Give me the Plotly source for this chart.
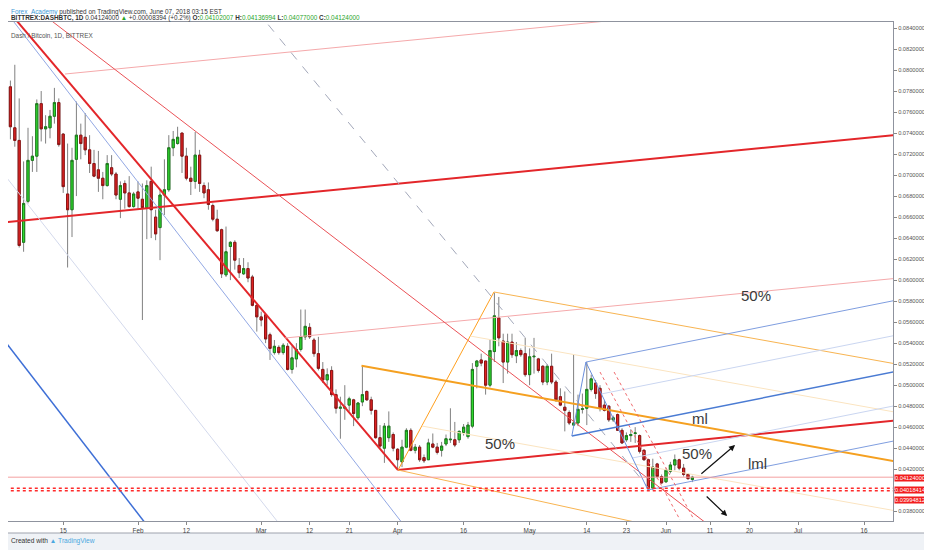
import pandas as pd
import plotly.graph_objects as go

BASE = pd.Timestamp("2018-01-01")

# DASH/BTC daily candles, 2 Jan .. 7 Jun 2018
opens = [
    0.0765, 0.0784, 0.0745, 0.0733, 0.0636, 0.0675, 0.0714, 0.0718, 0.0768, 0.0744,
    0.0745, 0.0756, 0.0769, 0.0739, 0.0682, 0.0667, 0.0715, 0.0738, 0.0736, 0.0724,
    0.0711, 0.0705, 0.0697, 0.0690, 0.0707, 0.0701, 0.0677, 0.0692, 0.0683, 0.0670,
    0.0684, 0.0677, 0.0669, 0.0694, 0.0660, 0.0650, 0.0681, 0.0686, 0.0726, 0.0730,
    0.0740, 0.0718, 0.0697, 0.0694, 0.0719, 0.0690, 0.0686, 0.0671, 0.0658, 0.0648,
    0.0605, 0.0632, 0.0636, 0.0614, 0.0606, 0.0611, 0.0603, 0.0576, 0.0565, 0.0567,
    0.0548, 0.0531, 0.0536, 0.0531, 0.0537, 0.0515, 0.0525, 0.0534, 0.0546, 0.0555,
    0.0543, 0.0530, 0.0515, 0.0505, 0.0514, 0.0491, 0.0478, 0.0478, 0.0481, 0.0486,
    0.0469, 0.0484, 0.0494, 0.0486, 0.0476, 0.0450, 0.0440, 0.0450, 0.0453, 0.0439,
    0.0427, 0.0441, 0.0457, 0.0438, 0.0441, 0.0431, 0.0429, 0.0444, 0.0441, 0.0438,
    0.0444, 0.0448, 0.0448, 0.0448, 0.0455, 0.0451, 0.0461, 0.0518, 0.0524, 0.0523,
    0.0500, 0.0532, 0.0564, 0.0542, 0.0522, 0.0541, 0.0528, 0.0533, 0.0530, 0.0510,
    0.0527, 0.0525, 0.0518, 0.0503, 0.0518, 0.0503, 0.0489, 0.0479, 0.0474, 0.0462,
    0.0464, 0.0477, 0.0478, 0.0496, 0.0502, 0.0497, 0.0481, 0.0480, 0.0467, 0.0472,
    0.0457, 0.0448, 0.0452, 0.0454, 0.0452, 0.0438, 0.0429, 0.0402, 0.0425, 0.0413,
    0.0408, 0.0418, 0.0424, 0.0429, 0.0421, 0.0415, 0.04102007,
]
highs = [
    0.0819, 0.0790, 0.0805, 0.0773, 0.0713, 0.0745, 0.0737, 0.0772, 0.0780, 0.0757,
    0.0762, 0.0783, 0.0773, 0.0740, 0.0730, 0.0726, 0.0770, 0.0749, 0.0759, 0.0738,
    0.0724, 0.0723, 0.0703, 0.0719, 0.0719, 0.0703, 0.0694, 0.0695, 0.0699, 0.0684,
    0.0694, 0.0692, 0.0695, 0.0708, 0.0667, 0.0686, 0.0715, 0.0738, 0.0742, 0.0746,
    0.0740, 0.0726, 0.0708, 0.0741, 0.0724, 0.0693, 0.0693, 0.0673, 0.0667, 0.0649,
    0.0651, 0.0637, 0.0638, 0.0621, 0.0621, 0.0617, 0.0605, 0.0577, 0.0570, 0.0568,
    0.0550, 0.0543, 0.0538, 0.0540, 0.0540, 0.0537, 0.0540, 0.0572, 0.0572, 0.0559,
    0.0545, 0.0546, 0.0522, 0.0516, 0.0518, 0.0496, 0.0489, 0.0500, 0.0489, 0.0487,
    0.0484, 0.0519, 0.0495, 0.0489, 0.0476, 0.0462, 0.0464, 0.0475, 0.0455, 0.0440,
    0.0448, 0.0459, 0.0459, 0.0444, 0.0443, 0.0434, 0.0449, 0.0454, 0.0445, 0.0446,
    0.0453, 0.0478, 0.0465, 0.0457, 0.0463, 0.0465, 0.0521, 0.0524, 0.0530, 0.0523,
    0.0543, 0.0588, 0.0584, 0.0549, 0.0549, 0.0549, 0.0541, 0.0535, 0.0545, 0.0535,
    0.0545, 0.0526, 0.0519, 0.0520, 0.0530, 0.0505, 0.0497, 0.0494, 0.0476, 0.0529,
    0.0491, 0.0492, 0.0522, 0.0510, 0.0505, 0.0500, 0.0486, 0.0481, 0.0471, 0.0473,
    0.0459, 0.0455, 0.0458, 0.0460, 0.0453, 0.0439, 0.0430, 0.0430, 0.0426, 0.0415,
    0.0421, 0.0427, 0.0434, 0.0430, 0.0425, 0.0416, 0.04136994,
]
lows = [
    0.0727, 0.0734, 0.0727, 0.0631, 0.0627, 0.0673, 0.0703, 0.0703, 0.0732, 0.0730,
    0.0735, 0.0749, 0.0727, 0.0683, 0.0612, 0.0641, 0.0680, 0.0715, 0.0719, 0.0702,
    0.0698, 0.0684, 0.0677, 0.0689, 0.0699, 0.0677, 0.0659, 0.0668, 0.0669, 0.0669,
    0.0668, 0.0562, 0.0639, 0.0640, 0.0638, 0.0619, 0.0662, 0.0684, 0.0718, 0.0729,
    0.0702, 0.0695, 0.0681, 0.0687, 0.0684, 0.0678, 0.0667, 0.0656, 0.0646, 0.0602,
    0.0603, 0.0600, 0.0610, 0.0602, 0.0605, 0.0598, 0.0575, 0.0551, 0.0556, 0.0540,
    0.0524, 0.0529, 0.0529, 0.0529, 0.0514, 0.0511, 0.0517, 0.0532, 0.0543, 0.0544,
    0.0527, 0.0514, 0.0502, 0.0500, 0.0489, 0.0473, 0.0449, 0.0467, 0.0475, 0.0461,
    0.0467, 0.0480, 0.0485, 0.0472, 0.0449, 0.0440, 0.0426, 0.0446, 0.0437, 0.0420,
    0.0422, 0.0440, 0.0437, 0.0435, 0.0427, 0.0426, 0.0429, 0.0440, 0.0434, 0.0432,
    0.0442, 0.0445, 0.0441, 0.0445, 0.0452, 0.0449, 0.0459, 0.0497, 0.0518, 0.0491,
    0.0498, 0.0522, 0.0537, 0.0502, 0.0511, 0.0526, 0.0521, 0.0527, 0.0508, 0.0500,
    0.0511, 0.0512, 0.0500, 0.0500, 0.0501, 0.0484, 0.0480, 0.0456, 0.0462, 0.0461,
    0.0461, 0.0473, 0.0462, 0.0494, 0.0487, 0.0475, 0.0475, 0.0465, 0.0465, 0.0457,
    0.0444, 0.0446, 0.0446, 0.0445, 0.0435, 0.0428, 0.03995, 0.0400, 0.0411, 0.0406,
    0.0407, 0.0416, 0.0419, 0.0419, 0.0413, 0.0410, 0.04077,
]
closes = [
    0.0790, 0.0746, 0.0733, 0.0633, 0.0673, 0.0714, 0.0718, 0.0768, 0.0744, 0.0746,
    0.0756, 0.0769, 0.0729, 0.0689, 0.0667, 0.0714, 0.0738, 0.0730, 0.0724, 0.0711,
    0.0699, 0.0697, 0.0690, 0.0711, 0.0701, 0.0681, 0.0690, 0.0683, 0.0670, 0.0682,
    0.0678, 0.0669, 0.0690, 0.0667, 0.0644, 0.0681, 0.0686, 0.0726, 0.0734, 0.0736,
    0.0718, 0.0697, 0.0694, 0.0719, 0.0692, 0.0683, 0.0672, 0.0658, 0.0647, 0.0606,
    0.0627, 0.0636, 0.0619, 0.0607, 0.0611, 0.0602, 0.0576, 0.0565, 0.0562, 0.0544,
    0.0535, 0.0537, 0.0531, 0.0538, 0.0515, 0.0526, 0.0534, 0.0546, 0.0556, 0.0546,
    0.0530, 0.0516, 0.0505, 0.0510, 0.0491, 0.0478, 0.0479, 0.0479, 0.0487, 0.0473,
    0.0483, 0.0491, 0.0486, 0.0476, 0.0450, 0.0442, 0.0461, 0.0461, 0.0440, 0.0429,
    0.0441, 0.0457, 0.0438, 0.0441, 0.0429, 0.0428, 0.0445, 0.0441, 0.0436, 0.0442,
    0.0449, 0.04485, 0.0443, 0.0456, 0.0460, 0.0462, 0.0515, 0.0523, 0.0521, 0.0500,
    0.0533, 0.0566, 0.0545, 0.0522, 0.0541, 0.0529, 0.0533, 0.0529, 0.0510, 0.0527,
    0.05275, 0.0514, 0.0503, 0.0518, 0.0503, 0.0486, 0.0481, 0.0476, 0.0464, 0.0464,
    0.0477, 0.04775, 0.0496, 0.0506, 0.0492, 0.0478, 0.0476, 0.0467, 0.0469, 0.0457,
    0.0445, 0.0452, 0.0453, 0.04545, 0.0437, 0.0429, 0.0402, 0.0422, 0.0413, 0.0407,
    0.0419, 0.0424, 0.0429, 0.0421, 0.0415, 0.0411, 0.04124,
]
dates = pd.date_range("2018-01-02", periods=len(opens), freq="D")

# drawn objects: (day offset from 1 Jan, price) start and end points
lines = {
    "red_up_top":     ((-2.0, 0.06540), (205.0, 0.07390)),
    "red_down":       ((2.0, 0.08540), (90.1, 0.04192)),
    "red_up_low":     ((90.1, 0.04192), (205.0, 0.04672)),
    "pink_mid":       ((64.4, 0.05449), (205.0, 0.06024)),
    "pink_top":       ((14.4, 0.07962), (140.0, 0.08477)),
    "red_thin_down":  ((10.0, 0.08512), (165.0, 0.03530)),
    "blue_chan":      ((1.0, 0.08555), (92.0, 0.03636)),
    "blue_low_left":  ((-2.0, 0.05567), (34.0, 0.03613)),
    "faint_chan":     ((-2.0, 0.07143), (64.0, 0.03632)),
    "grey_dash":      ((58.0, 0.08564), (147.4, 0.04002)),
    "orange_handle":  ((90.1, 0.04192), (111.9, 0.05887)),
    "orange_median":  ((81.8, 0.05185), (205.0, 0.04261)),
    "orange_upper":   ((111.9, 0.05887), (205.0, 0.05189)),
    "orange_lower":   ((90.1, 0.04192), (145.0, 0.03687)),
    "orange_half_up": ((106.5, 0.05468), (205.0, 0.04729)),
    "orange_half_lo": ((95.5, 0.04611), (205.0, 0.03790)),
    "blue_median":    ((129.6, 0.04516), (205.0, 0.05146)),
    "blue_upper":     ((132.8, 0.05220), (205.0, 0.05823)),
    "blue_lower":     ((146.9, 0.04002), (205.0, 0.04487)),
    "blue_half_up":   ((136.3, 0.04916), (205.0, 0.05490)),
    "blue_half_lo":   ((143.4, 0.04307), (205.0, 0.04821)),
    "blue_ab":        ((129.6, 0.04516), (132.8, 0.05220)),
    "blue_bc":        ((132.8, 0.05220), (146.9, 0.04002)),
    "red_dot_1":      ((136.0, 0.05125), (154.2, 0.03717)),
    "red_dot_2":      ((139.2, 0.05125), (157.4, 0.03717)),
}
levels = {"last": 0.04124000, "level_a": 0.04018414, "level_b": 0.03994812}

styles = {
    "red_up_top": ("#e3262a", 2, "solid"),
    "red_down": ("#e3262a", 2, "solid"),
    "red_up_low": ("#e3262a", 2, "solid"),
    "pink_mid": ("#f5a9ab", 1, "solid"),
    "pink_top": ("#f5a9ab", 1, "solid"),
    "red_thin_down": ("#ea5257", 1, "solid"),
    "blue_chan": ("#92a8e4", 1, "solid"),
    "blue_low_left": ("#3e6fd6", 1.5, "solid"),
    "faint_chan": ("#d3d9ec", 1, "solid"),
    "grey_dash": ("#a3a8ba", 1, "dash"),
    "orange_handle": ("#ffa01f", 1, "solid"),
    "orange_median": ("#f5a020", 2, "solid"),
    "orange_upper": ("#f8b451", 1, "solid"),
    "orange_lower": ("#f8b451", 1, "solid"),
    "orange_half_up": ("#fbe4c0", 1, "solid"),
    "orange_half_lo": ("#fbe4c0", 1, "solid"),
    "blue_median": ("#4a7bd3", 1.5, "solid"),
    "blue_upper": ("#7f9ee0", 1, "solid"),
    "blue_lower": ("#7f9ee0", 1, "solid"),
    "blue_half_up": ("#cad6f1", 1, "solid"),
    "blue_half_lo": ("#cad6f1", 1, "solid"),
    "blue_ab": ("#6a8fdc", 1, "solid"),
    "blue_bc": ("#6a8fdc", 1, "solid"),
    "red_dot_1": ("#f06a6e", 1, "dot"),
    "red_dot_2": ("#f06a6e", 1, "dot"),
}

notes = [("50%", 171.5, 0.05858), ("50%", 113.3, 0.04449), ("ml", 158.7, 0.04678),
         ("50%", 158.1, 0.04354), ("lml", 171.9, 0.04250)]
arrows = [((158.7, 0.04145), (166.7, 0.04430)), ((159.9, 0.03954), (164.9, 0.03754))]

tick_days = ["2018-01-01", "2018-01-15", "2018-02-01", "2018-02-12", "2018-03-01",
             "2018-03-12", "2018-03-21", "2018-04-01", "2018-04-16", "2018-05-01",
             "2018-05-14", "2018-05-23", "2018-06-01", "2018-06-11", "2018-06-20",
             "2018-07-01", "2018-07-16"]
tick_text = ["2018", "15", "Feb", "12", "Mar", "12", "21", "Apr", "16", "May",
             "14", "23", "Jun", "11", "20", "Jul", "16"]
price_ticks = [0.038 + 0.002 * i for i in range(24)]
# 0.040 sits under the red price labels on the scale
price_text = ["" if abs(v - 0.040) < 1e-9 else f"{v:.8f}" for v in price_ticks]


def day(d):
    return BASE + pd.Timedelta(days=d)


# the page body adds an 8px offset, so the figure is 8px smaller and the
# visible time range starts where the snapshot's 8th pixel column was
PW, PH = 885.0, 499.0


def px(x):      # snapshot column -> paper x
    return (x - 8) / PW


def py(y):      # snapshot row -> paper y
    return (521 - y) / PH


FONT = "Liberation Sans"
fig = go.Figure()

# grey wicks underneath
fig.add_trace(go.Candlestick(
    x=dates, open=opens, high=highs, low=lows, close=closes,
    increasing=dict(line=dict(color="#808080", width=1), fillcolor="#808080"),
    decreasing=dict(line=dict(color="#808080", width=1), fillcolor="#808080"),
    hoverinfo="skip"))
# coloured bodies on top
body_hi = [max(o, c) for o, c in zip(opens, closes)]
body_lo = [min(o, c) for o, c in zip(opens, closes)]
fig.add_trace(go.Candlestick(
    x=dates, open=opens, high=body_hi, low=body_lo, close=closes,
    increasing=dict(line=dict(color="#1c7d1c", width=1), fillcolor="#2fdc2f"),
    decreasing=dict(line=dict(color="#8e1414", width=1), fillcolor="#e02222"),
    hoverinfo="skip"))

for name, (p0, p1) in lines.items():
    col, w, dash = styles[name]
    fig.add_trace(go.Scatter(
        x=[day(p0[0]), day(p1[0])], y=[p0[1], p1[1]], mode="lines",
        line=dict(color=col, width=w, dash=dash), hoverinfo="skip"))

lvl_style = {"last": ("#f4a0a0", 1, "solid"), "level_a": ("#ff2b2b", 1.5, "dot"),
             "level_b": ("#ff2b2b", 1.5, "dot")}
for name, v in levels.items():
    col, w, dash = lvl_style[name]
    fig.add_trace(go.Scatter(
        x=[day(-2), day(205)], y=[v, v], mode="lines",
        line=dict(color=col, width=w, dash=dash), hoverinfo="skip"))

ann = []
for txt, d, p in notes:
    ann.append(dict(x=day(d), y=p, xref="x", yref="y", text=txt, showarrow=False,
                    font=dict(family=FONT, size=15, color="#3a3a3a")))
for (t0, t1) in arrows:
    ann.append(dict(x=day(t1[0]), y=t1[1], ax=day(t0[0]), ay=t0[1],
                    xref="x", yref="y", axref="x", ayref="y", text="",
                    showarrow=True, arrowhead=2, arrowsize=1, arrowwidth=1.2,
                    arrowcolor="#111111"))

# price labels on the scale
for v, shift in [(levels["last"], -1), (levels["level_a"], -1.5), (levels["level_b"], -9.5)]:
    ann.append(dict(x=1, y=v, xref="paper", yref="y", xanchor="left", yanchor="middle",
                    xshift=1, yshift=shift, text=f"{v:.8f}", showarrow=False,
                    bgcolor="#f21d1d", borderpad=0,
                    font=dict(family=FONT, size=5.7, color="white")))

# header and footer
ann.append(dict(x=px(8.5), y=py(12), xref="paper", yref="paper", xanchor="left",
                yanchor="middle", showarrow=False,
                text='<span style="color:#3d9ad8">Forex_Academy</span> published on '
                     'TradingView.com, June 07, 2018 03:15 EST',
                font=dict(family=FONT, size=6.4, color="#333")))
g = "#2aa52a"
ann.append(dict(x=px(8.5), y=py(18), xref="paper", yref="paper", xanchor="left",
                yanchor="middle", showarrow=False,
                text=(f'<b>BITTREX:DASHBTC, 1D</b> 0.04124000 <span style="color:{g}">▲</span>'
                      f' +0.00008394 (+0.2%) <b>O:</b><span style="color:{g}">0.04102007</span>'
                      f' <b>H:</b><span style="color:{g}">0.04136994</span>'
                      f' <b>L:</b><span style="color:{g}">0.04077000</span>'
                      f' <b>C:</b><span style="color:{g}">0.04124000</span>'),
                font=dict(family=FONT, size=6.4, color="#333")))
ann.append(dict(x=px(9), y=py(35), xref="paper", yref="paper", xanchor="left",
                yanchor="middle", showarrow=False, text="Dash / Bitcoin, 1D, BITTREX",
                font=dict(family=FONT, size=6.4, color="#555")))
ann.append(dict(x=px(8.5), y=py(541), xref="paper", yref="paper", xanchor="left",
                yanchor="middle", showarrow=False,
                text='Created with <span style="color:#4aa8e0">▲</span> '
                     '<span style="color:#4aa8e0">TradingView</span>',
                font=dict(family=FONT, size=6.6, color="#333")))

fig.update_layout(
    width=924, height=542,
    margin=dict(l=0, r=39, t=14, b=29),
    paper_bgcolor="#eff2f6", plot_bgcolor="white",
    showlegend=False, annotations=ann, dragmode=False,
    shapes=[dict(type="rect", xref="paper", yref="paper", x0=-0.01, x1=px(928),
                 y0=py(533), y1=1.1, fillcolor="white",
                 line=dict(color="#9ea2ad", width=1), layer="below")],
    xaxis=dict(
        range=[day((8 - 1.6) / 4.4), day((893 - 1.6) / 4.4)],
        rangeslider=dict(visible=False),
        tickvals=tick_days, ticktext=tick_text, ticks="outside", ticklen=3,
        tickcolor="#888", showgrid=False, zeroline=False, showline=True,
        linecolor="#8f939e", mirror=True, ticklabeloverflow="allow",
        tickfont=dict(family=FONT, size=6.4, color="#444")),
    yaxis=dict(
        range=[0.037068, 0.084573], side="right", tickvals=price_ticks,
        ticktext=price_text, ticks="outside", ticklen=3,
        tickcolor="#888", showgrid=False, zeroline=False, showline=True,
        linecolor="#8f939e", mirror=True, ticklabeloverflow="allow",
        tickfont=dict(family=FONT, size=5.7, color="#555")),
)

fig.write_html("out.html")
